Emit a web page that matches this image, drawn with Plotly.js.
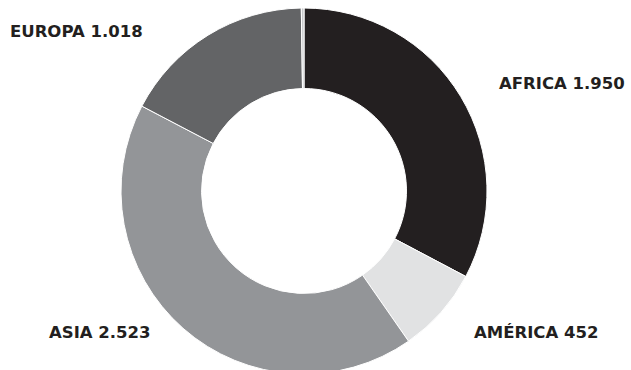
<!DOCTYPE html>
<html><head><meta charset="utf-8">
<script src="https://cdn.plot.ly/plotly-3.0.1.min.js"></script>
<style>html,body{margin:0;padding:0;overflow:hidden;background:#fff}</style>
</head><body><div id="chart"></div>
<script>
const labels = ["AFRICA", "AMÉRICA", "ASIA", "EUROPA", "OCEANÍA"];
const values = [1950, 452, 2523, 1018, 14];
const valueText = ["1.950", "452", "2.523", "1.018", ""];
const colors = ["#231f20", "#e1e2e3", "#939598", "#636466", "#c8c9cb"];

const W = 631, H = 380;
// label anchor positions (pixels, left edge / vertical middle)
const labelPos = [[497, 83], [472, 332], [47, 332], [8, 31]];

const annotations = labelPos.map((p, i) => ({
  text: labels[i] + " " + valueText[i],
  xref: "paper", yref: "paper",
  x: p[0] / W, y: 1 - p[1] / H,
  xanchor: "left", yanchor: "middle",
  showarrow: false,
  font: {family: "DejaVu Sans", size: 16.5, color: "#231f20", weight: 700}
}));

const trace = {
  type: "pie",
  labels: labels,
  values: values,
  hole: 0.56,
  sort: false,
  direction: "clockwise",
  rotation: 0,
  textinfo: "none",
  hoverinfo: "none",
  marker: {colors: colors, line: {color: "#ffffff", width: 1}},
  domain: {x: [121 / W, 487 / W], y: [(H - 374) / H, (H - 8) / H]}
};

Plotly.newPlot("chart", [trace], {
  width: W, height: H,
  margin: {l: 0, r: 0, t: 0, b: 0, pad: 0},
  showlegend: false,
  paper_bgcolor: "#ffffff",
  annotations: annotations
}, {staticPlot: true});
</script></body></html>
